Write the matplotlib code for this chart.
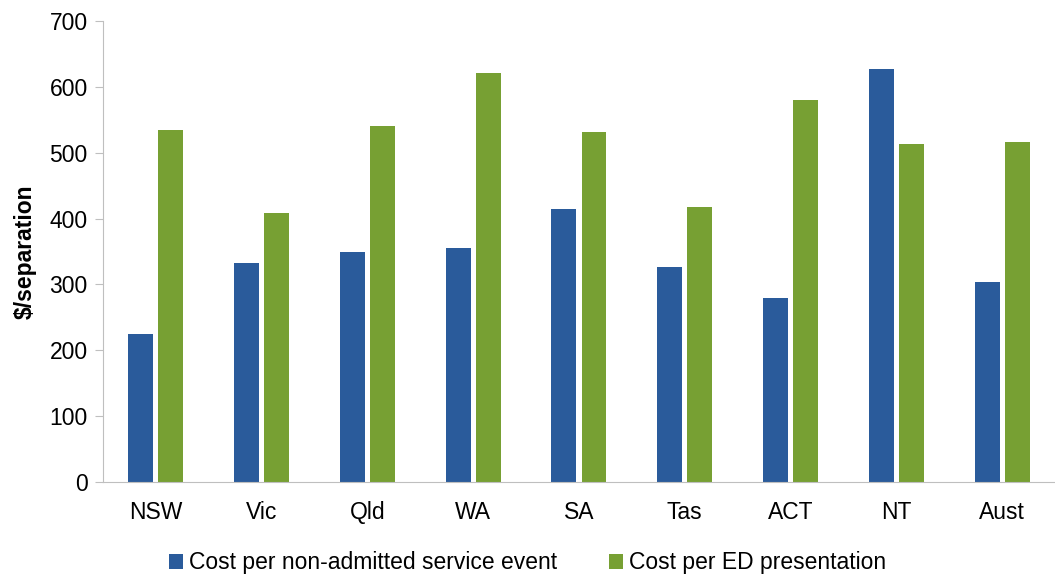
import numpy as np
import matplotlib.pyplot as plt

plt.rcParams['font.family'] = ['Liberation Sans', 'DejaVu Sans']

# data
states = ["NSW", "Vic", "Qld", "WA", "SA", "Tas", "ACT", "NT", "Aust"]
cost_non_admitted = [224, 332, 350, 355, 415, 326, 280, 628, 304]
cost_ed = [534, 408, 541, 621, 531, 418, 580, 514, 517]

blue = "#2A5B9B"
green = "#77A033"
fs = 16.5

fig = plt.figure(figsize=(10.55, 5.75), dpi=100)
ax = fig.add_axes([0.0976, 0.162, 0.9024, 0.801])

x = np.arange(len(states))
w = 0.236
ax.bar(x - w / 2 - 0.024, cost_non_admitted, w, color=blue,
       label="Cost per non-admitted service event")
ax.bar(x + w / 2 + 0.024, cost_ed, w, color=green,
       label="Cost per ED presentation")

ax.set_xlim(-0.5, len(states) - 0.5)
ax.set_ylim(0, 700)
ax.set_yticks(range(0, 701, 100))
ax.set_xticks(x)
ax.set_xticklabels(states)
ax.tick_params(axis='y', labelsize=fs, length=6, color="#BFBFBF", pad=5)
ax.tick_params(axis='x', labelsize=fs, length=0, pad=14)
ax.set_ylabel("$/separation", fontsize=fs, fontweight='bold', labelpad=9)

for s in ["top", "right"]:
    ax.spines[s].set_visible(False)
for s in ["left", "bottom"]:
    ax.spines[s].set_color("#BFBFBF")

fig.legend(*ax.get_legend_handles_labels(), loc="center",
           bbox_to_anchor=(0.50, 0.021), ncol=2,
           frameon=False, fontsize=fs, handlelength=0.6, handleheight=0.6,
           handletextpad=0.25, columnspacing=2.3)

fig.savefig("out.png", dpi=100)
